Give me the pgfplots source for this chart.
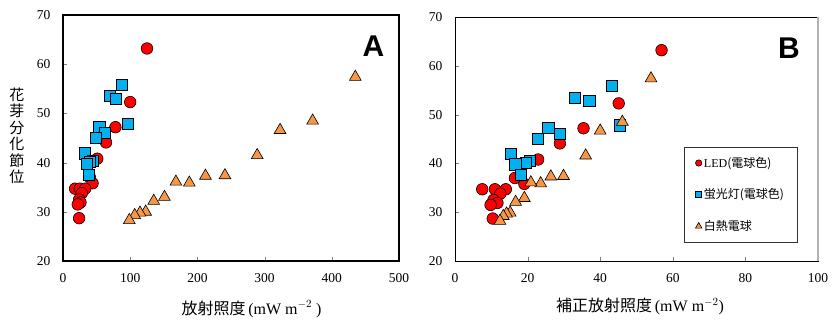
\documentclass[border=0pt]{standalone}
\usepackage{fontspec}
\setmainfont{Liberation Serif}
\newfontfamily\jp{Noto Sans CJK JP}
\newfontfamily\hv{Liberation Sans}
\usepackage{pgfplots}
\pgfplotsset{compat=1.18}
\definecolor{ledred}{RGB}{255,0,0}
\definecolor{flblue}{RGB}{0,176,240}
\definecolor{incor}{RGB}{247,150,70}
\pgfplotsset{
  common/.style={
    scale only axis, anchor=south west,
    ymin=20, ymax=70, ytick={20,30,...,70},
    tick align=inside, tick pos=left, major tick length=4pt,
    ticklabel style={font=\fontsize{13.5}{13.5}\selectfont},
    /pgf/number format/assume math mode=true,
    xticklabel style={yshift=-9pt},
    yticklabel style={xshift=-9pt},
  },
  led/.style={only marks, mark=*, mark size=5.8pt, mark options={fill=ledred, draw=black, line width=0.6pt}},
  fl/.style={only marks, mark=square*, mark size=5.6pt, mark options={fill=flblue, draw=black, line width=0.6pt}},
  inc/.style={only marks, mark=triangle*, mark size=6.8pt, mark options={fill=incor, draw=black, line width=0.6pt}},
}
\begin{document}
\begin{tikzpicture}
\useasboundingbox (0,0) rectangle (835pt,325pt);
% Panel A
\begin{axis}[common,
  at={(63pt,64pt)}, width=336pt, height=246pt,
  xmin=0, xmax=500, xtick={0,100,...,500},
  axis line style={line width=1.4pt},
  ylabel={花\\芽\\分\\化\\節\\位},
  ylabel style={rotate=-90, align=center, font=\jp\fontsize{15}{16.5}\selectfont, at={(axis description cs:-0.137,0.51)}, anchor=center},
  xlabel={{\jp 放射照度}\,(mW m$^{-2}$ )},
  xlabel style={font=\fontsize{16}{16}\selectfont, at={(axis description cs:0.561,-0.195)}, anchor=center},
]
\addplot[led] coordinates {(125,63.2)(100,52.3)(78,47.2)(64,44.1)(51,40.8)(40,37.0)(44,35.8)(18,34.7)(25,34.7)(33,34.7)(28,33.8)(24,32.5)(26,31.9)(22,31.5)(24,28.7)};
\addplot[fl] coordinates {(88,55.8)(70,53.5)(78,52.9)(96,47.9)(54,47.2)(62,46.1)(49,45.1)(33,41.9)(44,40.3)(40,40.1)(36,39.7)(38,37.6)};
\addplot[inc] coordinates {(435,57.4)(371.5,48.5)(323,46.6)(289,41.5)(241,37.4)(212,37.3)(188,35.9)(168,36.1)(151,33.0)(135,32.2)(123,30.0)(114.6,29.8)(106.7,29.3)(98.7,28.3)};
\node[font=\hv\bfseries\fontsize{30}{30}\selectfont] at (axis cs:462,63.7) {A};
\end{axis}
% Panel B
\begin{axis}[common,
  at={(455pt,64pt)}, width=363pt, height=244pt,
  xmin=0, xmax=100, xtick={0,20,...,100},
  axis line style={line width=1pt},
  xlabel={{\jp 補正放射照度}\,(mW m$^{-2}$)},
  xlabel style={font=\fontsize{16}{16}\selectfont, at={(axis description cs:0.51,-0.187)}, anchor=center},
  legend style={at={(axis cs:63.1,43.4)}, anchor=north west, draw=black!80, line width=0.8pt,
    font=\fontsize{12}{12}\selectfont, row sep=16pt, inner xsep=11pt, inner ysep=8pt, cells={anchor=west}},
  legend image code/.code={\draw[#1,/tikz/every mark/.append style={scale=0.55}] plot coordinates {(0pt,0pt)};},
  extra description/.code={\draw[gray!60, line width=1.2pt] (1,0) -- (1,1);},
]
\addplot[led] coordinates {(56.9,63.2)(45.1,52.3)(35.4,47.2)(28.9,44.1)(22.9,40.8)(16.5,37.0)(19.1,35.8)(7.5,34.7)(11,34.7)(14,34.7)(12.5,33.8)(10.6,32.5)(11.7,31.9)(9.8,31.5)(10.4,28.7)};
\addlegendentry{LED{\jp(電球色)}}
\addplot[fl] coordinates {(43.2,55.9)(33.1,53.4)(37,52.9)(45.3,47.8)(25.7,47.3)(28.9,46.1)(22.7,45.0)(15.4,41.9)(20.5,40.5)(19.4,40.2)(16.6,39.8)(18.1,37.6)};
\addlegendentry{{\jp 蛍光灯(電球色)}}
\addplot[inc] coordinates {(54,57.4)(46.1,48.5)(40,46.7)(36,41.6)(29.9,37.4)(26.4,37.3)(23.6,35.9)(20.9,36.1)(19.1,32.9)(16.7,32.1)(15.2,29.9)(14.2,29.7)(13.3,29.2)(12.4,28.2)};
\addlegendentry{{\jp 白熱電球}}
\node[font=\hv\bfseries\fontsize{30}{30}\selectfont] at (axis cs:92,63.6) {B};
\end{axis}
\end{tikzpicture}
\end{document}
